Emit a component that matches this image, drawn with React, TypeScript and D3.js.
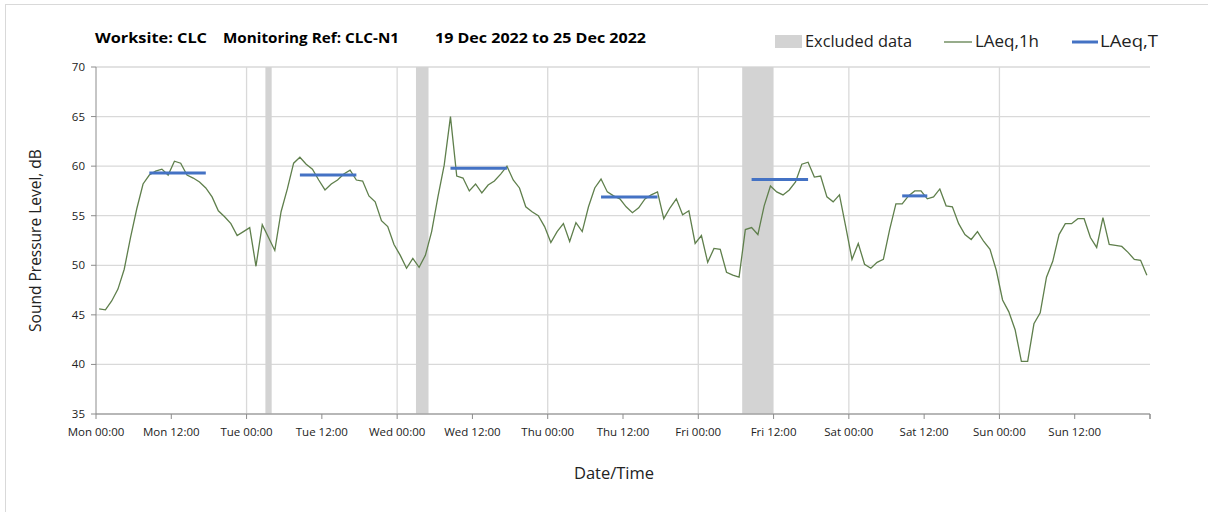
import React from "react";
import * as d3 from "d3";

const days = ["Mon", "Tue", "Wed", "Thu", "Fri", "Sat", "Sun"];
const yTicks = [35, 40, 45, 50, 55, 60, 65, 70];

// Hourly LAeq,1h values, Mon 00:00 .. Sun 23:00 (plotted at hour centres)
const laeq1h = [
  45.6, 45.5, 46.4, 47.6, 49.6, 52.8, 55.7, 58.2, 59.1, 59.5, 59.7, 59.1,
  60.5, 60.3, 59.1, 58.8, 58.4, 57.8, 56.9, 55.5, 54.9, 54.2, 53.0, 53.4,
  53.8, 49.9, 54.1, 52.8, 51.5, 55.4, 57.7, 60.3, 60.9, 60.2, 59.7, 58.6,
  57.6, 58.2, 58.6, 59.2, 59.6, 58.6, 58.5, 57.0, 56.4, 54.5, 53.9, 52.1,
  51.0, 49.7, 50.7, 49.8, 51.0, 53.4, 56.9, 60.1, 65.0, 59.0, 58.8, 57.5,
  58.2, 57.3, 58.1, 58.5, 59.2, 60.0, 58.6, 57.8, 55.9, 55.4, 55.0, 53.9,
  52.3, 53.4, 54.2, 52.4, 54.3, 53.4, 55.9, 57.8, 58.7, 57.4, 57.0, 56.7,
  55.9, 55.3, 55.8, 56.7, 57.1, 57.4, 54.7, 55.8, 56.7, 55.1, 55.5, 52.2,
  53.0, 50.3, 51.7, 51.6, 49.3, 49.0, 48.8, 53.6, 53.8, 53.1, 56.0, 58.0,
  57.4, 57.1, 57.6, 58.4, 60.2, 60.4, 58.9, 59.0, 56.9, 56.4, 57.1, 53.9,
  50.6, 52.2, 50.1, 49.7, 50.3, 50.6, 53.6, 56.2, 56.2, 57.0, 57.5, 57.5,
  56.7, 56.9, 57.7, 56.0, 55.9, 54.2, 53.1, 52.6, 53.4, 52.4, 51.6, 49.5,
  46.5, 45.3, 43.5, 40.3, 40.3, 44.1, 45.2, 48.8, 50.4, 53.1, 54.2, 54.2,
  54.7, 54.7, 52.8, 51.8, 54.8, 52.1, 52.0, 51.9, 51.3, 50.6, 50.5, 49.0,
];

// LAeq,T daytime periods: [start hour index, end hour index, value]
const laeqTStart = [8, 32, 56, 80, 104, 128];
const laeqTEnd = [17, 41, 65, 89, 113, 132];
const laeqTValue = [59.3, 59.1, 59.8, 56.9, 58.65, 57.0];

// Excluded data periods in hours from Mon 00:00
const excludedStart = [27, 51, 103];
const excludedEnd = [28, 53, 108];

const titleParts = ["Worksite: CLC", "Monitoring Ref: CLC-N1", "19 Dec 2022 to 25 Dec 2022"];

const W = 1208;
const H = 512;
const M = { left: 96, right: 1150, top: 67, bottom: 414 };

const x = d3.scaleLinear().domain([0, 168]).range([M.left, M.right]);
const y = d3.scaleLinear().domain([35, 70]).range([M.bottom, M.top]);

const FONT = "'Open Sans', 'Noto Sans', sans-serif";
const GREEN = "#5f7f4c";
const BLUE = "#4472c4";
const GRID = "#d9d9d9";
const AXIS = "#8c8c8c";
const BAND = "#d3d3d3";

export default function App() {
  const line = d3
    .line<number>()
    .x((_, i) => x(i + 0.5))
    .y((d) => y(d));

  const xTickHours = d3.range(0, 169, 12);
  const dayGrid = d3.range(24, 168, 24);
  const titleX = [95, 223, 435];
  const titleLen = [112, 176, 211];

  return (
    <svg
      width={W}
      height={H}
      style={{ position: "fixed", left: 0, top: 0, background: "#fff" }}
      fontFamily={FONT}
    >
      <rect x={0} y={0} width={W} height={H} fill="#fff" />
      <rect x={5.5} y={4.5} width={W + 10} height={H + 10} fill="none" stroke={GRID} />

      {/* title */}
      {titleParts.map((t, i) => (
        <text
          key={"t" + i}
          x={titleX[i]}
          y={43}
          fontSize={15}
          fontWeight="bold"
          fill="#000"
          textLength={titleLen[i]}
          lengthAdjust="spacingAndGlyphs"
        >
          {t}
        </text>
      ))}

      {/* legend */}
      <rect x={775} y={35} width={27} height={13} fill={BAND} />
      <text x={805} y={47} fontSize={16} fill="#222" textLength={107} lengthAdjust="spacingAndGlyphs">Excluded data</text>
      <line x1={944} x2={972} y1={42} y2={42} stroke={GREEN} strokeWidth={1.3} />
      <text x={975} y={47} fontSize={16} fill="#222" textLength={64} lengthAdjust="spacingAndGlyphs">LAeq,1h</text>
      <line x1={1072} x2={1098} y1={42} y2={42} stroke={BLUE} strokeWidth={3} />
      <text x={1100} y={47} fontSize={16} fill="#222" textLength={58} lengthAdjust="spacingAndGlyphs">LAeq,T</text>

      {/* horizontal gridlines */}
      {yTicks.map((t) => (
        <line key={"hg" + t} x1={M.left} x2={M.right} y1={y(t)} y2={y(t)} stroke={GRID} strokeWidth={1.3} />
      ))}
      {/* vertical gridlines */}
      {dayGrid.map((h) => (
        <line key={"vg" + h} x1={x(h)} x2={x(h)} y1={M.top} y2={M.bottom} stroke={GRID} strokeWidth={1.3} />
      ))}

      {/* excluded bands */}
      {excludedStart.map((s, i) => (
        <rect key={"ex" + i} x={x(s)} y={M.top} width={x(excludedEnd[i]) - x(s)} height={M.bottom - M.top} fill={BAND} />
      ))}

      {/* axes */}
      <line x1={M.left} x2={M.left} y1={M.top} y2={M.bottom} stroke={AXIS} />
      <line x1={M.left} x2={M.right} y1={M.bottom} y2={M.bottom} stroke={AXIS} />
      <line x1={M.right} x2={M.right} y1={M.bottom} y2={M.bottom + 5} stroke={AXIS} />
      {yTicks.map((t) => (
        <g key={"yt" + t}>
          <line x1={M.left - 5} x2={M.left} y1={y(t)} y2={y(t)} stroke={AXIS} />
          <text x={M.left - 11} y={y(t) + 4} fontSize={11.5} textAnchor="end" fill="#222">{t}</text>
        </g>
      ))}
      {xTickHours.map((h) => (
        <line key={"xt" + h} x1={x(h)} x2={x(h)} y1={M.bottom} y2={M.bottom + 5} stroke={AXIS} />
      ))}
      {xTickHours.slice(0, 14).map((h) => (
        <text key={"xl" + h} x={x(h)} y={436} fontSize={11.5} textAnchor="middle" fill="#222">
          {days[Math.floor(h / 24)] + (h % 24 === 0 ? " 00:00" : " 12:00")}
        </text>
      ))}

      {/* LAeq,1h line */}
      <path d={line(laeq1h) || ""} fill="none" stroke={GREEN} strokeWidth={1.3} />

      {/* LAeq,T lines */}
      {laeqTValue.map((v, i) => (
        <line
          key={"lt" + i}
          x1={x(laeqTStart[i] + 0.5)}
          x2={x(laeqTEnd[i] + 0.5)}
          y1={y(v)}
          y2={y(v)}
          stroke={BLUE}
          strokeWidth={3}
        />
      ))}

      {/* axis titles */}
      <text
        transform={`translate(41,${(M.top + M.bottom) / 2}) rotate(-90)`}
        fontSize={15.5}
        textAnchor="middle"
        fill="#222"
      >
        Sound Pressure Level, dB
      </text>
      <text x={614} y={479} fontSize={16.5} textAnchor="middle" fill="#222">Date/Time</text>
    </svg>
  );
}
